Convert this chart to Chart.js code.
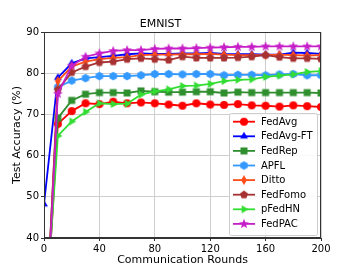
<!DOCTYPE html>
<html>
<head>
<meta charset="utf-8">
<script src="https://cdn.jsdelivr.net/npm/chart.js@4.4.0/dist/chart.umd.min.js"></script>
<style>
html,body{margin:0;padding:0;background:#fff;}
#wrap{width:357px;height:268px;}
</style>
</head>
<body>
<div id="wrap"><canvas id="c" width="357" height="268"></canvas></div>
<script>
const rounds = [0,10,20,30,40,50,60,70,80,90,100,110,120,130,140,150,160,170,180,190,200];
const xTicks = [0,40,80,120,160,200];
const yTicks = [40,50,60,70,80,90];
const seriesNames = ['FedAvg','FedAvg-FT','FedRep','APFL','Ditto','FedFomo','pFedHN','FedPAC'];

const fedAvg   = [12,67.7,70.8,72.7,72.5,73.1,72.7,72.9,72.7,72.4,72.1,72.7,72.4,72.3,72.5,72.2,72.1,71.9,72.2,72.0,71.8];
const fedAvgFT = [48.2,78.9,82.4,83.6,83.9,84.2,84.6,84.8,84.7,84.7,84.8,84.8,84.9,84.7,84.6,84.6,84.5,84.5,85.0,84.9,84.7];
const fedRep   = [12,69.1,73.4,74.9,75.3,75.3,75.2,75.7,75.5,75.4,75.4,75.5,75.5,75.2,75.4,75.3,75.3,75.3,75.3,75.3,75.2];
const apfl     = [10,76.6,78.2,78.8,79.3,79.3,79.3,79.5,79.8,79.8,79.7,79.8,79.8,79.5,79.6,79.6,79.5,79.7,79.8,79.5,79.5];
const ditto    = [8,78.1,81.6,82.8,83.4,83.7,83.9,84.4,84.5,84.5,84.6,84.6,84.7,84.5,84.4,84.4,84.4,84.5,84.4,84.3,84.4];
const fedFomo  = [10,76.0,80.2,81.6,82.6,82.8,83.4,83.6,83.4,83.2,84.0,83.7,83.7,83.7,83.8,84.0,84.4,83.9,83.6,83.6,83.5];
const pFedHN   = [15,64.8,68.3,70.6,72.7,72.5,72.6,74.8,75.6,76.1,76.9,77.0,77.4,78.1,78.4,78.5,79.1,79.4,79.7,80.3,80.5];
const fedPAC   = [8,75.0,81.8,84.0,84.8,85.4,85.6,85.6,85.9,86.0,86.0,86.1,86.2,86.3,86.4,86.4,86.5,86.5,86.5,86.5,86.5];

const seriesValues = [fedAvg,fedAvgFT,fedRep,apfl,ditto,fedFomo,pFedHN,fedPAC];
const colors = ['#ff0000','#0000ff','#2f8f2f','#3399ff','#ff4d1a','#a83232','#33dd33','#c71fc7'];
const shapes = ['circle','triUp','square','hex','thinDiamond','pentagon','triRight','star'];

function makeMarker(shape, color){
  const s = 14;
  const cv = document.createElement('canvas');
  cv.width = s; cv.height = s;
  const g = cv.getContext('2d');
  g.translate(s/2, s/2);
  g.fillStyle = color;
  g.beginPath();
  const poly = (n, r, rot) => {
    for (let i=0;i<n;i++){
      const a = rot + i*2*Math.PI/n;
      const x = r*Math.cos(a), y = r*Math.sin(a);
      if(i===0) g.moveTo(x,y); else g.lineTo(x,y);
    }
    g.closePath();
  };
  if (shape==='circle') g.arc(0,0,4,0,Math.PI*2);
  else if (shape==='triUp') poly(3,4.6,-Math.PI/2);
  else if (shape==='square') g.rect(-3.5,-3.5,7,7);
  else if (shape==='hex') poly(6,4.3,-Math.PI/2);
  else if (shape==='thinDiamond'){ g.moveTo(0,-5); g.lineTo(2.9,0); g.lineTo(0,5); g.lineTo(-2.9,0); g.closePath(); }
  else if (shape==='pentagon') poly(5,4.2,-Math.PI/2);
  else if (shape==='triRight') poly(3,4.6,0);
  else if (shape==='star'){
    for (let i=0;i<10;i++){
      const r = i%2===0 ? 5.2 : 2.2;
      const a = -Math.PI/2 + i*Math.PI/5;
      const x = r*Math.cos(a), y = r*Math.sin(a);
      if(i===0) g.moveTo(x,y); else g.lineTo(x,y);
    }
    g.closePath();
  }
  g.fill();
  return cv;
}

const markers = shapes.map((sh,i)=>makeMarker(sh, colors[i]));

const datasets = seriesNames.map((name,i)=>({
  label: name,
  data: rounds.map((r,j)=>({x:r, y:seriesValues[i][j]})),
  borderColor: colors[i],
  backgroundColor: colors[i],
  borderWidth: 1.8,
  pointStyle: markers[i],
  pointRadius: 4,
  pointHoverRadius: 4,
  tension: 0,
  order: seriesNames.length - i
}));

const framePlugin = {
  id: 'frameAndLegend',
  afterDraw(chart){
    const {ctx, chartArea:a} = chart;
    ctx.save();
    ctx.strokeStyle = '#333';
    ctx.lineWidth = 1;
    ctx.strokeRect(Math.round(a.left)+0.5, Math.round(a.top)+0.5, Math.round(a.right-a.left)-1, Math.round(a.bottom-a.top)-1);
    // legend
    const bx = 229.5, by = 113.5, bw = 88, bh = 122;
    ctx.fillStyle = 'rgba(255,255,255,0.85)';
    ctx.strokeStyle = '#cccccc';
    ctx.lineWidth = 1;
    ctx.beginPath();
    if (ctx.roundRect) ctx.roundRect(bx,by,bw,bh,2); else ctx.rect(bx,by,bw,bh);
    ctx.fill(); ctx.stroke();
    ctx.font = '10px "DejaVu Sans"';
    ctx.textBaseline = 'middle';
    ctx.textAlign = 'left';
    for (let i=0;i<seriesNames.length;i++){
      const y = 121.7 + i*14.6;
      ctx.strokeStyle = colors[i];
      ctx.lineWidth = 1.8;
      ctx.beginPath(); ctx.moveTo(233,y); ctx.lineTo(255,y); ctx.stroke();
      ctx.drawImage(markers[i], 244-7, y-7);
      ctx.fillStyle = '#000';
      ctx.fillText(seriesNames[i], 261, y+0.5);
    }
    ctx.restore();
  }
};

new Chart(document.getElementById('c'), {
  type: 'line',
  data: { datasets },
  options: {
    responsive: false,
    animation: false,
    devicePixelRatio: 1,
    layout: { padding: { left: 0, right: 36, top: 0, bottom: 0 } },
    plugins: {
      legend: { display: false },
      tooltip: { enabled: false },
      title: {
        display: true, text: 'EMNIST', color: '#000',
        font: { family: 'DejaVu Sans', size: 11, weight: 'normal' },
        padding: { top: 18, bottom: 0.8 }
      }
    },
    scales: {
      x: {
        type: 'linear', min: 0, max: 200,
        afterFit(s){ s.height = 30; },
        afterBuildTicks(s){ s.ticks = xTicks.map(v=>({value:v})); },
        grid: { color: '#cfcfcf', borderDash: [3,2], drawTicks: true, tickLength: 3, tickColor: '#333', tickBorderDash: [] },
        border: { display: true, color: '#333', dash: [] },
        ticks: { color: '#000', padding: 2, maxRotation: 0, font: { family: 'DejaVu Sans', size: 10 } },
        title: { display: true, text: 'Communication Rounds', color: '#000', font: { family: 'DejaVu Sans', size: 11 }, padding: { top: 0, bottom: 1.4 } }
      },
      y: {
        type: 'linear', min: 40, max: 90,
        afterFit(s){ s.width = 44; },
        afterBuildTicks(s){ s.ticks = yTicks.map(v=>({value:v})); },
        grid: { color: '#cfcfcf', borderDash: [3,2], drawTicks: true, tickLength: 3, tickColor: '#333', tickBorderDash: [] },
        border: { display: true, color: '#333', dash: [] },
        ticks: { color: '#000', padding: 2, font: { family: 'DejaVu Sans', size: 10 } },
        title: { display: true, text: 'Test Accuracy (%)', color: '#000', font: { family: 'DejaVu Sans', size: 11 }, padding: { top: 11, bottom: 0 } }
      }
    }
  },
  plugins: [framePlugin]
});
</script>
</body>
</html>
